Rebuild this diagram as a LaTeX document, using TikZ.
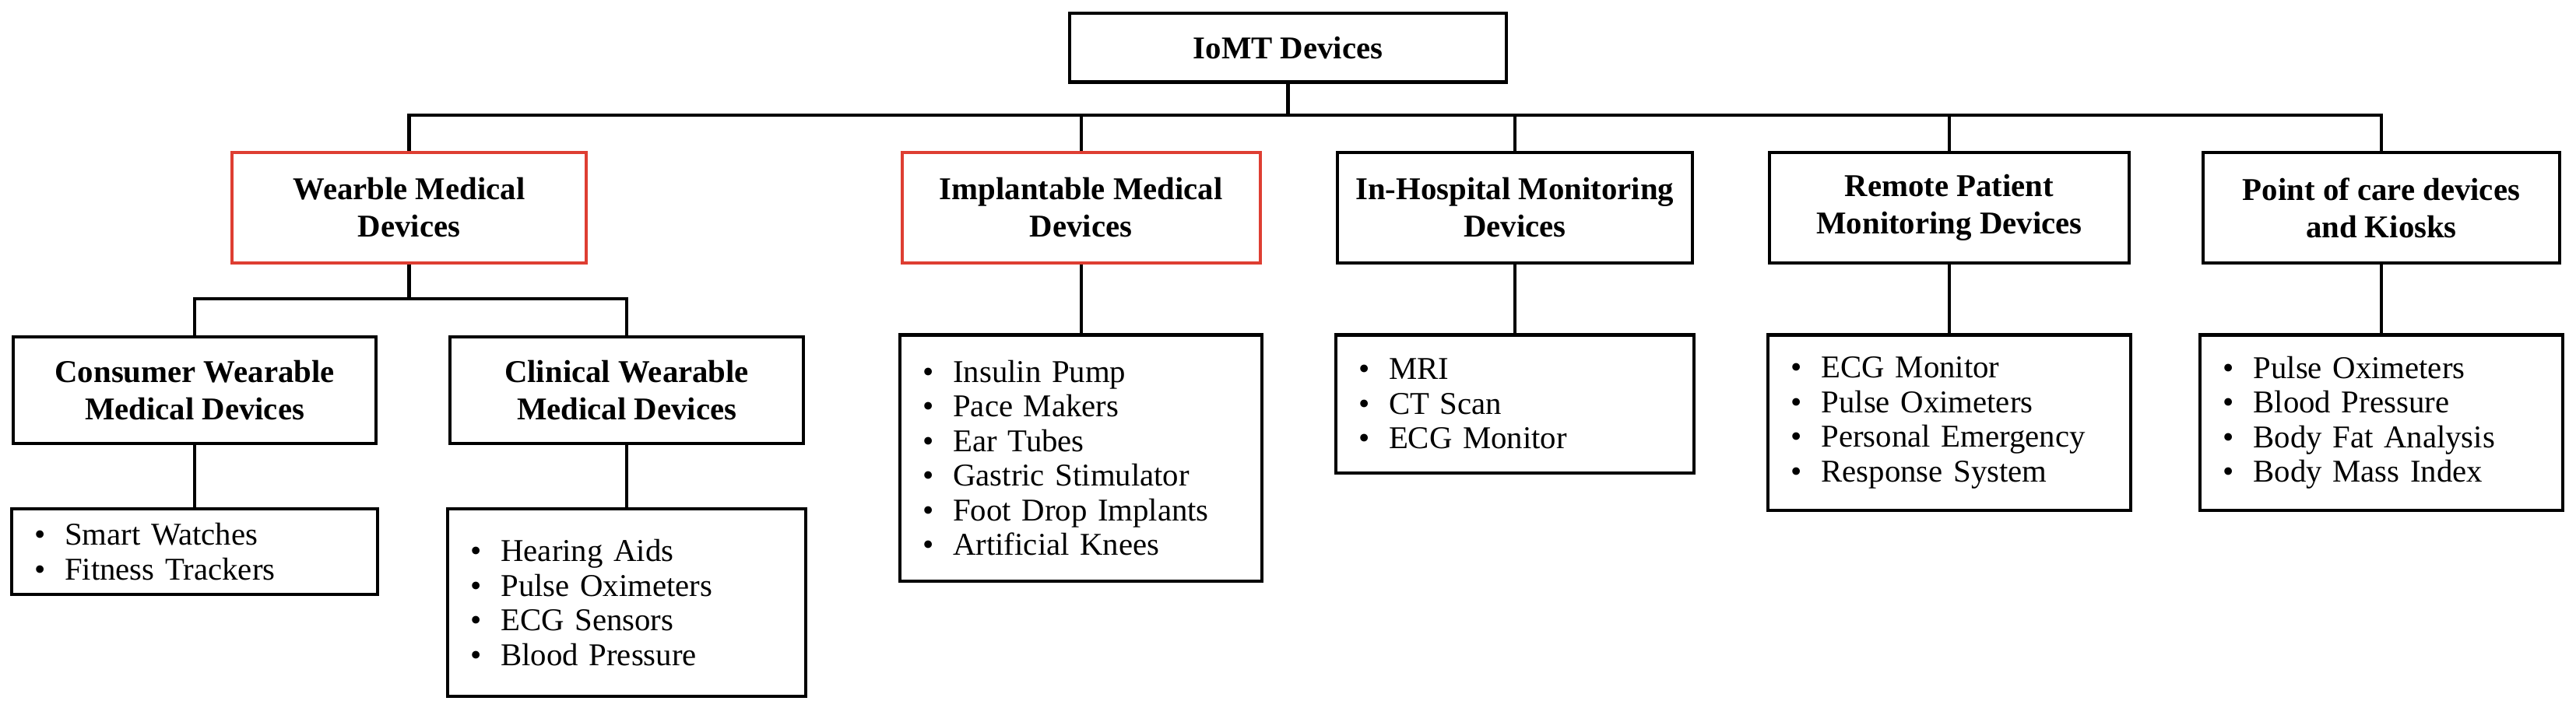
\documentclass[tikz,border=0pt]{standalone}
\usepackage{fontspec}
\setmainfont{Liberation Serif}
\definecolor{boxred}{RGB}{222,62,50}
\begin{document}
\begin{tikzpicture}[x=0.02cm,y=-0.02cm,
  box/.style={draw,line width=1.1pt,align=center,font=\fontsize{11}{13}\selectfont\bfseries,inner sep=2pt},
  lst/.style={draw,line width=1.1pt,align=left,font=\fontsize{11}{12}\selectfont,inner xsep=8pt},
  conn/.style={line width=1.1pt}]
\useasboundingbox (0,0) rectangle (1568,431);
\node[box,minimum width=5.32cm,minimum height=0.84cm] (top) at (784,29) {IoMT Devices};
\node[box,draw=boxred,minimum width=4.32cm,minimum height=1.34cm] (wear) at (249,126.5) {Wearble Medical\\Devices};
\node[box,draw=boxred,minimum width=4.36cm,minimum height=1.34cm] (impl) at (658,126.5) {Implantable Medical\\Devices};
\node[box,minimum width=4.32cm,minimum height=1.34cm] (hosp) at (922,126.5) {In-Hospital Monitoring\\Devices};
\node[box,minimum width=4.38cm,minimum height=1.34cm] (rem) at (1186.5,126.5) {Remote Patient\\Monitoring Devices};
\node[box,minimum width=4.34cm,minimum height=1.34cm] (pt) at (1449.5,126.5) {Point of care devices\\and Kiosks};
\node[box,minimum width=4.42cm,minimum height=1.30cm] (cons) at (118.5,237.5) {Consumer Wearable\\Medical Devices};
\node[box,minimum width=4.30cm,minimum height=1.30cm] (clin) at (381.5,237.5) {Clinical Wearable\\Medical Devices};
\node[lst,minimum width=4.42cm,minimum height=1.04cm,text width=3.9cm] (consl) at (118.5,336) {\textbullet\hspace{0.6em}Smart Watches\\\textbullet\hspace{0.6em}Fitness Trackers};
\node[lst,minimum width=4.30cm,minimum height=2.28cm,text width=3.8cm] (clinl) at (381.5,367) {\textbullet\hspace{0.6em}Hearing Aids\\\textbullet\hspace{0.6em}Pulse Oximeters\\\textbullet\hspace{0.6em}ECG Sensors\\\textbullet\hspace{0.6em}Blood Pressure};
\node[lst,minimum width=4.36cm,minimum height=3.0cm,text width=3.85cm] (impll) at (658,279) {\textbullet\hspace{0.6em}Insulin Pump\\\textbullet\hspace{0.6em}Pace Makers\\\textbullet\hspace{0.6em}Ear Tubes\\\textbullet\hspace{0.6em}Gastric Stimulator\\\textbullet\hspace{0.6em}Foot Drop Implants\\\textbullet\hspace{0.6em}Artificial Knees};
\node[lst,minimum width=4.32cm,minimum height=1.68cm,text width=3.8cm] (hospl) at (922,246) {\textbullet\hspace{0.6em}MRI\\\textbullet\hspace{0.6em}CT Scan\\\textbullet\hspace{0.6em}ECG Monitor};
\node[lst,minimum width=4.38cm,minimum height=2.14cm,text width=3.85cm] (reml) at (1186.5,257.5) {\textbullet\hspace{0.6em}ECG Monitor\\\textbullet\hspace{0.6em}Pulse Oximeters\\\textbullet\hspace{0.6em}Personal Emergency\\\textbullet\hspace{0.6em}Response System};
\node[lst,minimum width=4.34cm,minimum height=2.14cm,text width=3.85cm] (ptl) at (1449.5,257.5) {\textbullet\hspace{0.6em}Pulse Oximeters\\\textbullet\hspace{0.6em}Blood Pressure\\\textbullet\hspace{0.6em}Body Fat Analysis\\\textbullet\hspace{0.6em}Body Mass Index};
\coordinate (bus) at (784,70);
\coordinate (wb) at (249,182);
\draw[conn] (top.south) -- (bus);
\foreach \n in {wear,impl,hosp,rem,pt} \draw[conn] (\n.north) |- (bus);
\draw[conn] (wear.south) -- (wb);
\draw[conn] (cons.north) |- (wb);
\draw[conn] (clin.north) |- (wb);
\draw[conn] (cons.south) -- (consl.north);
\draw[conn] (clin.south) -- (clinl.north);
\draw[conn] (impl.south) -- (impll.north);
\draw[conn] (hosp.south) -- (hospl.north);
\draw[conn] (rem.south) -- (reml.north);
\draw[conn] (pt.south) -- (ptl.north);
\end{tikzpicture}
\end{document}
